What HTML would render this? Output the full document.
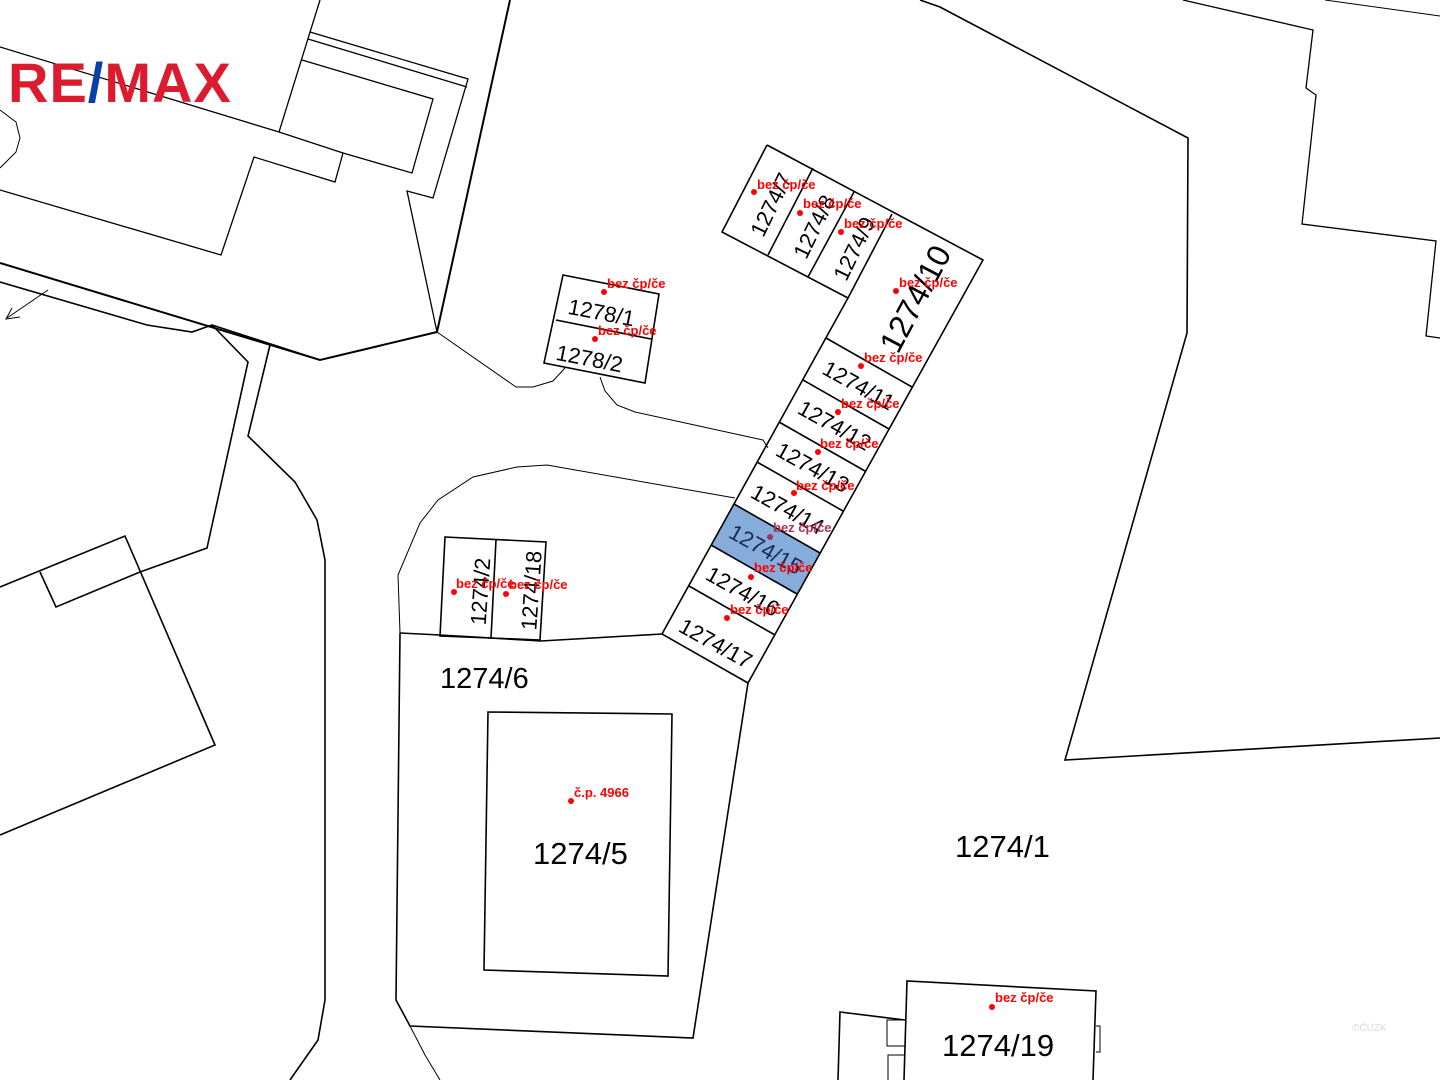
<!DOCTYPE html>
<html><head><meta charset="utf-8"><style>
html,body{margin:0;padding:0;background:#fff;}
svg{display:block;}
.t{font-family:"Liberation Sans",sans-serif;fill:#000;}
.r{font-family:"Liberation Sans",sans-serif;font-weight:bold;font-size:13px;fill:#ff0000;}
</style></head><body>
<svg width="1440" height="1080" viewBox="0 0 1440 1080" xmlns="http://www.w3.org/2000/svg">
<rect width="1440" height="1080" fill="#fff"/>
<polygon points="734,504 820,553 797,594 711,545" fill="#86acdc"/>
<g fill="none" stroke="#000" stroke-width="1.3">
<polyline points="0,47 279,132 343,153 412,173 433,99 302,60"/>
<polyline points="320,0 279,132"/>
<polyline points="310,32 468,79 433,198 407,191 437,332"/>
<polyline points="308,39 467,87"/>
<polyline points="0,190 221,255 254,157 335,182 343,153"/>
<polyline points="0,110 16,122 20,138 16,152 0,168" stroke-width="1"/>
<polyline points="510,0 437,332" stroke-width="2"/>
<polyline points="0,263 320,360 437,332" stroke-width="2"/>
<polyline points="0,282 147,325 192,332 212,325 248,362 207,548 140,572 56,607 40,572" stroke-width="1.6"/>
<polyline points="212,325 320,360" stroke-width="1.6"/>
<polyline points="48,290 7,318" stroke-width="1"/>
<polyline points="12,308 6,319 20,317" stroke-width="1"/>
<polyline points="0,587 125,536 215,745 0,835" stroke-width="1.6"/>
<polyline points="270,345 248,436 295,482 317,520 325,560 325,1000 318,1040 290,1080" stroke-width="1.6"/>
<polyline points="437,332 516,387 533,387 553,381 565,368" stroke-width="1"/>
<polyline points="600,377 605,391 617,405 635,412 763,440 768,448" stroke-width="1"/>
<polygon points="563,275 659,294 645,383 544,363" stroke-width="1.6"/>
<line x1="556" y1="320" x2="651" y2="339" stroke-width="1.6"/>
<polyline points="735,498 547,465 517,467 473,477 438,500 420,523 398,575 400,633" stroke-width="1"/>
<polyline points="400,633 440,635 541,641 662,634" stroke-width="1.6"/>
<polyline points="400,633 396,1000 410,1026 693,1038 748,683" stroke-width="1.6"/>
<polyline points="410,1026 425,1055 440,1080" stroke-width="1"/>
<polygon points="445,537 546,542 540,640 440,636" stroke-width="1.6"/>
<line x1="496" y1="540" x2="491" y2="638" stroke-width="1.6"/>
<polygon points="488,712 672,714 668,976 484,970" stroke-width="1.6"/>
<polyline points="767,145 983,260 748,683 662,634 848,298 722,232 767,145" stroke-width="1.6"/>
<line x1="813" y1="168" x2="768" y2="255" stroke-width="1.6"/>
<line x1="854" y1="192" x2="808" y2="277" stroke-width="1.6"/>
<line x1="892" y1="214" x2="848" y2="298" stroke-width="1.6"/>
<line x1="826" y1="338" x2="912" y2="387" stroke-width="1.6"/>
<line x1="803" y1="380" x2="889" y2="429" stroke-width="1.6"/>
<line x1="779" y1="422" x2="865" y2="471" stroke-width="1.6"/>
<line x1="757" y1="462" x2="843" y2="511" stroke-width="1.6"/>
<line x1="734" y1="504" x2="820" y2="553" stroke-width="1.6"/>
<line x1="711" y1="545" x2="797" y2="594" stroke-width="1.6"/>
<line x1="689" y1="586" x2="775" y2="635" stroke-width="1.6"/>
<polyline points="920,0 940,7 1188,138 1187,333 1065,760 1440,738" stroke-width="1.6"/>
<polyline points="1183,0 1313,30 1306,88 1316,95 1302,224 1436,241 1426,336 1440,338" stroke-width="1.3"/>
<polyline points="1325,0 1440,16" stroke-width="1"/>
<polyline points="904,1080 907,981 1096,991 1093,1080" stroke-width="1.6"/>
<polyline points="838,1080 840,1012 905,1020" stroke-width="1.6"/>
<polyline points="905,1020 887,1020 887,1046 905,1046" stroke-width="1"/>
<polyline points="905,1055 888,1055 888,1080" stroke-width="1"/>
<polyline points="1096,1026 1100,1026 1100,1052 1096,1052" stroke-width="1"/>
</g>
<text x="8" y="102" font-family="Liberation Sans,sans-serif" font-weight="bold" font-size="56" fill="#dc1c2e" letter-spacing="1">RE<tspan fill="#0b3ea8">/</tspan>MAX</text>
<g class="t">
<text x="440" y="688" font-size="29">1274/6</text>
<text x="533" y="864" font-size="31">1274/5</text>
<text x="955" y="857" font-size="31">1274/1</text>
<text x="942" y="1056" font-size="31">1274/19</text>
<text font-size="32" text-anchor="middle" transform="translate(925,304) rotate(-62)">1274/10</text>
<text font-size="22" text-anchor="middle" transform="translate(778,208) rotate(-64)">1274/7</text>
<text font-size="22" text-anchor="middle" transform="translate(821,230) rotate(-64)">1274/8</text>
<text font-size="22" text-anchor="middle" transform="translate(861,252) rotate(-64)">1274/9</text>
<text font-size="22" text-anchor="middle" transform="translate(855,392) rotate(29)">1274/11</text>
<text font-size="22" text-anchor="middle" transform="translate(831,432) rotate(29)">1274/12</text>
<text font-size="22" text-anchor="middle" transform="translate(809,474) rotate(29)">1274/13</text>
<text font-size="22" text-anchor="middle" transform="translate(784,516) rotate(29)">1274/14</text>
<text font-size="22" text-anchor="middle" transform="translate(762,556) rotate(29)" fill="#1a2a50">1274/15</text>
<text font-size="22" text-anchor="middle" transform="translate(739,598) rotate(29)">1274/16</text>
<text font-size="22" text-anchor="middle" transform="translate(712,650) rotate(29)">1274/17</text>
<text font-size="22" text-anchor="middle" transform="translate(600,320) rotate(11)">1278/1</text>
<text font-size="22" text-anchor="middle" transform="translate(588,366) rotate(11)">1278/2</text>
<text font-size="22" text-anchor="middle" transform="translate(488,592) rotate(-86)">1274/2</text>
<text font-size="22" text-anchor="middle" transform="translate(539,591) rotate(-86)">1274/18</text>
</g>
<g fill="#ff0000">
<circle cx="754" cy="192" r="3"/><circle cx="800" cy="213" r="3"/><circle cx="841" cy="232" r="3"/>
<circle cx="896" cy="291" r="3"/><circle cx="604" cy="292" r="3"/><circle cx="595" cy="339" r="3"/>
<circle cx="861" cy="366" r="3"/><circle cx="838" cy="412" r="3"/><circle cx="818" cy="452" r="3"/>
<circle cx="794" cy="493" r="3"/><circle cx="770" cy="537" r="3" fill="#a03060"/><circle cx="751" cy="577" r="3"/>
<circle cx="727" cy="618" r="3"/><circle cx="454" cy="592" r="3"/><circle cx="506" cy="594" r="3"/>
<circle cx="571" cy="801" r="3"/><circle cx="992" cy="1007" r="3"/>
</g>
<g class="r">
<text x="757" y="189">bez čp/če</text>
<text x="803" y="208">bez čp/če</text>
<text x="844" y="228">bez čp/če</text>
<text x="899" y="287">bez čp/če</text>
<text x="607" y="288">bez čp/če</text>
<text x="598" y="335">bez čp/če</text>
<text x="864" y="362">bez čp/če</text>
<text x="841" y="408">bez čp/če</text>
<text x="820" y="448">bez čp/če</text>
<text x="796" y="490">bez čp/če</text>
<text x="773" y="532" fill="#b03058">bez čp/če</text>
<text x="754" y="572">bez čp/če</text>
<text x="730" y="614">bez čp/če</text>
<text x="456" y="588">bez čp/če</text>
<text x="509" y="589">bez čp/če</text>
<text x="574" y="797">č.p. 4966</text>
<text x="995" y="1002">bez čp/če</text>
</g>
<text x="1352" y="1031" font-family="Liberation Sans,sans-serif" font-size="10" fill="#d8d8d8">©ČÚZK</text>
</svg>
</body></html>
